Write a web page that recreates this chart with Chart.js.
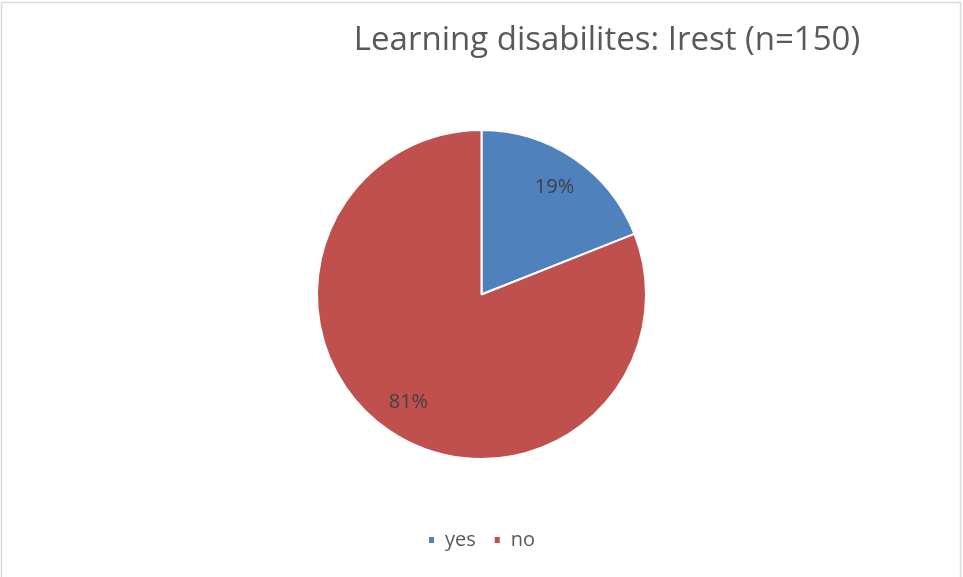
<!DOCTYPE html>
<html>
<head>
<meta charset="utf-8">
<script src="https://cdn.jsdelivr.net/npm/chart.js@4/dist/chart.umd.min.js"></script>
<style>
  html, body { margin: 0; padding: 0; background: #ffffff; }
  #wrap { position: relative; width: 963px; height: 577px; }
</style>
</head>
<body>
<div id="wrap"><canvas id="c" width="963" height="577"></canvas></div>
<script>
// Chart values
const categories = ['yes', 'no'];
const percentValues = [19, 81];
const sliceColors = ['#4f81bd', '#c0504d'];
const chartTitle = 'Learning disabilites: Irest (n=150)';

const FONT = "'Open Sans', sans-serif";

// Frame line and title text
const frameAndTitle = {
  id: 'frameAndTitle',
  beforeDraw(chart) {
    const ctx = chart.ctx;
    ctx.save();
    ctx.fillStyle = '#ffffff';
    ctx.fillRect(0, 0, chart.width, chart.height);
    ctx.strokeStyle = '#d9d9d9';
    ctx.lineWidth = 1.5;
    ctx.strokeRect(1.5, 2.5, 959, 620);
    ctx.restore();
  },
  afterDraw(chart) {
    const ctx = chart.ctx;
    ctx.save();
    ctx.font = '33px ' + FONT;
    ctx.fillStyle = '#595959';
    ctx.textAlign = 'center';
    ctx.textBaseline = 'middle';
    ctx.fillText(chartTitle, 607, 41);
    ctx.restore();
  }
};

// Percentage labels inside each slice
const sliceLabels = {
  id: 'sliceLabels',
  afterDatasetsDraw(chart) {
    const ctx = chart.ctx;
    const meta = chart.getDatasetMeta(0);
    const data = chart.data.datasets[0].data;
    const total = data.reduce((a, b) => a + b, 0);
    ctx.save();
    ctx.font = '20px ' + FONT;
    ctx.fillStyle = '#404040';
    ctx.textAlign = 'center';
    ctx.textBaseline = 'middle';
    meta.data.forEach((arc, i) => {
      const p = arc.getProps(['x', 'y', 'startAngle', 'endAngle', 'outerRadius'], true);
      const mid = (p.startAngle + p.endAngle) / 2;
      const r = p.outerRadius * 0.79;
      const pct = Math.round(data[i] / total * 100) + '%';
      ctx.fillText(pct, p.x + Math.cos(mid) * r, p.y + Math.sin(mid) * r);
    });
    ctx.restore();
  }
};

new Chart(document.getElementById('c'), {
  type: 'pie',
  data: {
    labels: categories,
    datasets: [{
      data: percentValues,
      backgroundColor: sliceColors,
      borderColor: '#ffffff',
      borderWidth: 2
    }]
  },
  options: {
    responsive: false,
    animation: false,
    layout: { padding: { top: 129, bottom: 17, left: 0, right: 0 } },
    plugins: {
      title: { display: false },
      tooltip: { enabled: false },
      legend: {
        display: true,
        position: 'bottom',
        title: {
          display: true,
          text: ' ',
          padding: { top: 37.6, bottom: 0 },
          font: { size: 12 }
        },
        labels: {
          boxWidth: 7,
          boxHeight: 8,
          padding: 18,
          color: '#595959',
          font: { family: FONT, size: 20 }
        }
      }
    }
  },
  plugins: [frameAndTitle, sliceLabels]
});
</script>
</body>
</html>
